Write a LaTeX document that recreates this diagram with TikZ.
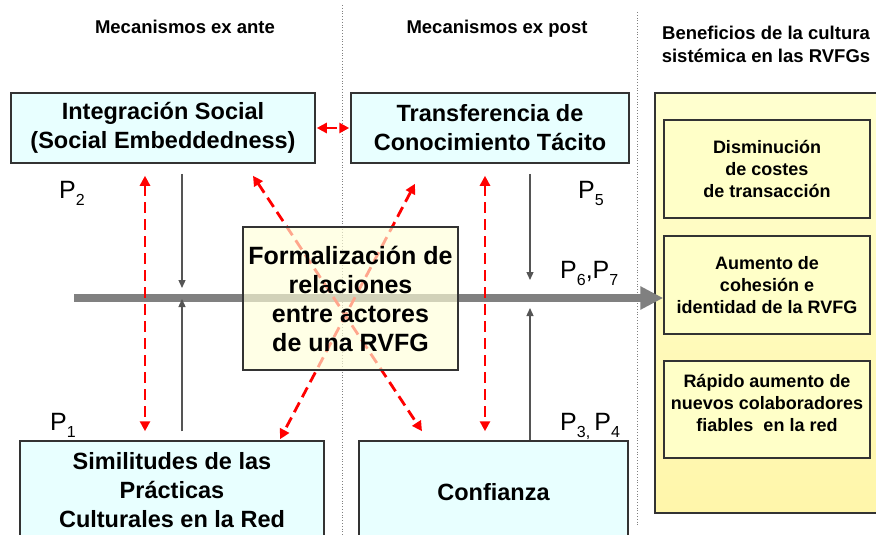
\documentclass[tikz,border=0pt]{standalone}
\usepackage{fontspec}
\setmainfont{Liberation Sans}
\usetikzlibrary{arrows.meta,positioning,calc}
\definecolor{boxcyan}{HTML}{E8FFFF}
\definecolor{formyellow}{HTML}{FFFFD8}
\definecolor{paneltop}{HTML}{FFFFD0}
\definecolor{panelbot}{HTML}{FFF6AA}
\definecolor{benfill}{HTML}{FFFFC8}
\definecolor{edgegray}{HTML}{333333}
\definecolor{flowgray}{HTML}{808080}
\definecolor{thingray}{HTML}{555555}
\newcommand{\Psub}[1]{P\raisebox{-7pt}{\fontsize{16}{16}\selectfont #1}}
\tikzset{
    mecbox/.style={
        draw=edgegray,line width=1.5pt,fill=boxcyan,align=center,inner sep=0pt,
        font=\bfseries\fontsize{23.5}{29}\selectfont
    },
    formbox/.style={
        draw=edgegray,line width=1.5pt,fill=formyellow,fill opacity=.65,text opacity=1,
        align=center,inner sep=0pt,minimum width=215pt,minimum height=143pt,
        font=\bfseries\fontsize{25}{29}\selectfont
    },
    panel/.style={
        draw=edgegray,line width=1.2pt,top color=paneltop,bottom color=panelbot,inner sep=0pt
    },
    benbox/.style={
        draw=edgegray,line width=1.5pt,fill=benfill,align=center,inner sep=0pt,
        minimum width=206pt,font=\bfseries\fontsize{18}{22}\selectfont
    },
    header/.style={font=\bfseries\fontsize{18.5}{23}\selectfont,align=center,inner sep=0pt},
    plabel/.style={font=\fontsize{25}{30}\selectfont,inner sep=0pt,anchor=base west},
    redarrow/.style={
        red,line width=2.8pt,dash pattern=on 11pt off 6pt,
        {Triangle[length=10pt,width=10pt]}-{Triangle[length=10pt,width=10pt]}
    },
    thinarrow/.style={thingray,line width=1.3pt,-{Triangle[length=8pt,width=7pt]}},
    mainflow/.style={flowgray,line width=7.5pt,-{Triangle[length=23pt,width=22pt]}},
    sepline/.style={gray,line width=.8pt,dotted}
}
\begin{document}
\begin{tikzpicture}[x=1pt,y=-1pt]
\useasboundingbox (0,0) rectangle (876,535);
% column separators
\draw[sepline] (342,5) -- (342,535);
\draw[sepline] (637,12) -- (637,527);
% headers
\node[header,anchor=base] (hante) at (185,34) {Mecanismos ex ante};
\node[header,anchor=base] (hpost) at (497,34) {Mecanismos ex post};
\node[header] (hben) at (766,44) {Beneficios de la cultura\\sist\'emica en las RVFGs};
% mechanism boxes
\node[mecbox,minimum width=304pt,minimum height=70pt] (isoc) at (163,128) {Integraci\'on Social\\(Social Embeddedness)};
\node[mecbox,minimum width=278pt,minimum height=70pt] (trans) at (490,128) {Transferencia de\\Conocimiento T\'acito};
\node[mecbox,minimum width=304pt,minimum height=98pt] (sim) at (172,490) {Similitudes de las\\Pr\'acticas\\Culturales en la Red};
\node[mecbox,minimum width=269pt,minimum height=102pt] (conf) at (493.5,492) {Confianza};
% benefits panel
\node[panel,minimum width=230pt,minimum height=420pt] (panel) at (770,303) {};
\node[benbox,minimum height=98pt] (dism) at (767,169) {Disminuci\'on\\de costes\\de transacci\'on};
\node[benbox,minimum height=98pt] (aum) at (767,285) {Aumento de\\cohesi\'on e\\identidad de la RVFG};
\node[benbox,minimum height=97pt] (rap) at (767,409.5) {R\'apido aumento de\\nuevos colaboradores\\fiables\ \ en la red\\[-8pt]};
% main flow
\coordinate (gstart) at (74,298);
\coordinate (m1) at (182,298);
\coordinate (m2) at (530,298);
\draw[mainflow] (gstart) -- (gstart -| aum.west);
\draw[thinarrow] ([xshift=19pt,yshift=-10pt]isoc.south) -- ([yshift=10pt]m1);
\draw[thinarrow] ([xshift=10pt,yshift=9pt]sim.north) -- ([yshift=-1pt]m1);
\draw[thinarrow] ([xshift=40pt,yshift=-10pt]trans.south) -- ([yshift=18pt]m2);
\draw[thinarrow] ([xshift=36.5pt]conf.north) -- ([yshift=-10pt]m2);
% mutual influences
\draw[redarrow] ([xshift=1pt]isoc.east) -- ([xshift=-1pt]trans.west);
\draw[redarrow] ([xshift=-18pt,yshift=-12pt]isoc.south) -- ([xshift=-27pt,yshift=9pt]sim.north);
\draw[redarrow] ([xshift=-5pt,yshift=-12pt]trans.south) -- ([xshift=-8.5pt,yshift=9pt]conf.north);
\draw[redarrow] ([xshift=90pt,yshift=-12pt]isoc.south) -- ([xshift=-71.5pt,yshift=9pt]conf.north);
\draw[redarrow] ([xshift=-75pt,yshift=-20pt]trans.south) -- ([xshift=108pt,yshift=1pt]sim.north);
% formalisation
\node[formbox] (form) at (350.5,298.5) {Formalizaci\'on de\\relaciones\\entre actores\\de una RVFG};
% propositions
\node[plabel] (p2) at (59,198) {\Psub{2}};
\node[plabel] (p5) at (578,198) {\Psub{5}};
\node[plabel] (p67) at (560,278) {\Psub{6},\Psub{7}};
\node[plabel] (p1) at (50,430) {\Psub{1}};
\node[plabel] (p34) at (560,430) {\Psub{3,}\,\Psub{4}};
\end{tikzpicture}
\end{document}
